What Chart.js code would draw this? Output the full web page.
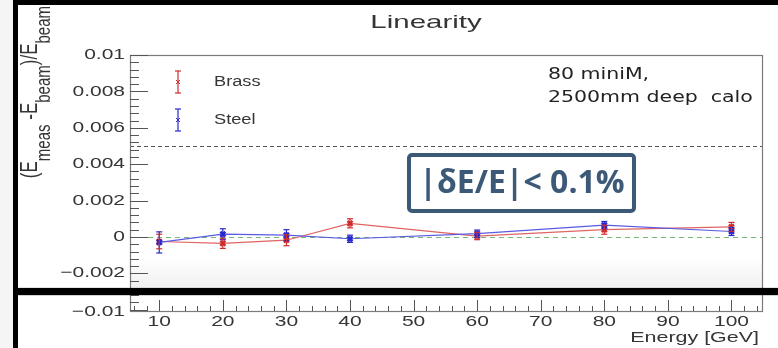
<!DOCTYPE html>
<html>
<head>
<meta charset="utf-8">
<script src="https://cdn.jsdelivr.net/npm/chart.js@4.4.0/dist/chart.umd.min.js"></script>
<style>
  html, body { margin: 0; padding: 0; background: #fff; }
  canvas { display: block; }
</style>
</head>
<body>
<canvas id="linearity_canvas" width="778" height="348"></canvas>
<script>
// beam energies and relative deviation (Emeas - Ebeam)/Ebeam
const energies = [10, 20, 30, 40, 60, 80, 100];
const brassDev = [-0.00025, -0.00035, -0.00018, 0.00075, 0.00005, 0.0004, 0.00055];
const brassErr = [0.0004, 0.00028, 0.0003, 0.00025, 0.0002, 0.00025, 0.00025];
const steelDev = [-0.0003, 0.00015, 0.0001, -0.0001, 0.00018, 0.00065, 0.0003];
const steelErr = [0.00058, 0.0003, 0.0003, 0.0002, 0.0002, 0.0002, 0.00022];

const xTicks = [10, 20, 30, 40, 50, 60, 70, 80, 90, 100];
const yTicks = [0.01, 0.008, 0.006, 0.004, 0.002, 0, -0.002];
const yTickLabels = ['0.01', '0.008', '0.006', '0.004', '0.002', '0', '\u22120.002'];
const yBottomLabel = '\u22120.01';   // the pad is cut, only the bottom of the axis is shown
const cutFrom = -0.0028;
const cutTo = -0.0032;
const limitLine = 0.005;

const titleText = 'Linearity';
const xTitle = 'Energy [GeV]';
const noteLines = ['80 miniM,', '2500mm deep  calo'];
const boxText = '|\u03b4E/E|< 0.1%';

const rootFont = '"Liberation Sans", Arial, sans-serif';
const textCol = '#353535';

function wideText(ctx, txt, x, y, align, sx) {
    ctx.save();
    ctx.translate(x, y);
    ctx.scale(sx, 1);
    ctx.textAlign = align;
    ctx.textBaseline = 'middle';
    ctx.fillText(txt, 0, 0);
    ctx.restore();
}

function seg(ctx, x1, y1, x2, y2) {
    ctx.beginPath();
    ctx.moveTo(x1, y1);
    ctx.lineTo(x2, y2);
    ctx.stroke();
}

function errMarker(ctx, x, yTop, yBot, col) {
    ctx.strokeStyle = col;
    ctx.lineWidth = 1.2;
    seg(ctx, x, yTop, x, yBot);
    seg(ctx, x - 3, yTop, x + 3, yTop);
    seg(ctx, x - 3, yBot, x + 3, yBot);
}

function drawYTitle(ctx, xBase, yEnd) {
    const parts = [['(E', false], ['meas', true], [' -E', false], ['beam', true], [')/E', false], ['beam', true]];
    const fMain = '17px ' + rootFont, fSub = '15px ' + rootFont;
    let total = 0;
    parts.forEach(p => { ctx.font = p[1] ? fSub : fMain; total += ctx.measureText(p[0]).width; });
    ctx.save();
    ctx.translate(xBase, yEnd + total);
    ctx.rotate(-Math.PI / 2);
    ctx.scale(1, 1.4);
    ctx.fillStyle = textCol;
    ctx.textAlign = 'left';
    ctx.textBaseline = 'alphabetic';
    let cx = 0;
    parts.forEach(p => {
        ctx.font = p[1] ? fSub : fMain;
        ctx.fillText(p[0], cx, p[1] ? 9 : 0);
        cx += ctx.measureText(p[0]).width;
    });
    ctx.restore();
}

const rootPad = {
    id: 'rootPad',
    beforeDraw(chart) {
        const ctx = chart.ctx, a = chart.chartArea, y = chart.scales.y;
        ctx.save();
        ctx.fillStyle = '#fff';
        ctx.fillRect(0, 0, chart.width, chart.height);
        ctx.fillStyle = '#f5f5f5';
        ctx.fillRect(0, 0, 14, chart.height);
        // faint shading just above the cut
        const cTop = y.getPixelForValue(cutFrom);
        const g = ctx.createLinearGradient(0, cTop - 30, 0, cTop);
        g.addColorStop(0, 'rgba(240,240,240,0)');
        g.addColorStop(1, 'rgba(240,240,240,1)');
        ctx.fillStyle = g;
        ctx.fillRect(a.left, cTop - 30, a.right - a.left, 30);
        // reference lines
        ctx.lineWidth = 1;
        ctx.setLineDash([4, 3]);
        ctx.strokeStyle = '#555';
        const yl = Math.round(y.getPixelForValue(limitLine)) + 0.5;
        seg(ctx, a.left, yl, a.right, yl);
        ctx.setLineDash([5, 4]);
        ctx.strokeStyle = '#76b876';
        const y0 = Math.round(y.getPixelForValue(0)) + 0.5;
        seg(ctx, a.left, y0, a.right, y0);
        ctx.restore();
    },
    afterDatasetsDraw(chart) {
        const ctx = chart.ctx, x = chart.scales.x, y = chart.scales.y;
        ctx.save();
        chart.data.datasets.forEach(ds => {
            ds.data.forEach((p, j) => {
                const px = x.getPixelForValue(p.x);
                errMarker(ctx, px, y.getPixelForValue(p.y + ds.errors[j]), y.getPixelForValue(p.y - ds.errors[j]), ds.pointBorderColor);
            });
        });
        ctx.restore();
    },
    afterDraw(chart) {
        const ctx = chart.ctx, a = chart.chartArea, x = chart.scales.x, y = chart.scales.y;
        ctx.save();
        // frame
        ctx.strokeStyle = '#7a7a7a';
        ctx.lineWidth = 1.2;
        ctx.strokeRect(a.left + 0.5, a.top + 0.5, a.right - a.left, a.bottom - a.top);
        // ticks, drawn inside the frame like ROOT does
        ctx.strokeStyle = '#555';
        ctx.lineWidth = 1;
        for (let k = Math.ceil(y.min / 0.0004); k * 0.0004 <= y.max + 1e-9; k++) {
            const v = k * 0.0004;
            const major = Math.abs(v / 0.002 - Math.round(v / 0.002)) < 1e-6;
            const py = Math.round(y.getPixelForValue(v)) + 0.5;
            seg(ctx, a.left, py, a.left + (major ? 18 : 9), py);
        }
        for (let v = 6; v <= x.max; v += 2) {
            const px = Math.round(x.getPixelForValue(v)) + 0.5;
            seg(ctx, px, a.bottom, px, a.bottom - (v % 10 === 0 ? 11 : 5));
        }
        // tick labels
        ctx.fillStyle = textCol;
        ctx.font = '15px ' + rootFont;
        yTicks.forEach((v, i) => wideText(ctx, yTickLabels[i], a.left - 5, y.getPixelForValue(v), 'right', 1.4));
        wideText(ctx, yBottomLabel, a.left - 5, a.bottom + 1, 'right', 1.4);
        xTicks.forEach(v => wideText(ctx, String(v), x.getPixelForValue(v), a.bottom + 11, 'center', 1.4));
        wideText(ctx, xTitle, a.right - 3, a.bottom + 27, 'right', 1.43);
        // titles
        ctx.font = '19px ' + rootFont;
        wideText(ctx, titleText, 426, 23, 'center', 1.55);
        drawYTitle(ctx, 37, 6);
        // legend
        const legY = [82, 120];
        chart.data.datasets.slice().reverse().forEach((ds, i) => {
            const ly = legY[i];
            errMarker(ctx, 178, ly - 11, ly + 11, ds.pointBorderColor);
            ctx.lineWidth = 1;
            seg(ctx, 176, ly - 2, 180, ly + 2);
            seg(ctx, 176, ly + 2, 180, ly - 2);
            ctx.fillStyle = textCol;
            ctx.font = '14px ' + rootFont;
            wideText(ctx, ds.label, 214, ly, 'left', 1.3);
        });
        // notes
        ctx.fillStyle = '#222';
        ctx.font = '16px "DejaVu Sans", sans-serif';
        wideText(ctx, noteLines[0], 548, 75, 'left', 1.28);
        wideText(ctx, noteLines[1], 548, 98, 'left', 1.28);
        // highlighted box
        ctx.fillStyle = '#fff';
        ctx.fillRect(409, 155, 225, 56);
        ctx.strokeStyle = '#3c5a77';
        ctx.lineWidth = 4;
        ctx.beginPath();
        ctx.roundRect(409, 155, 225, 56, 3);
        ctx.stroke();
        ctx.fillStyle = '#3c5a77';
        ctx.font = 'bold 32px "Open Sans", sans-serif';
        ctx.textAlign = 'center';
        ctx.textBaseline = 'middle';
        ctx.fillText(boxText, 522, 184);
        // black slide borders and the cut through the pad
        ctx.fillStyle = '#000';
        ctx.fillRect(13, 0, chart.width - 13, 5);
        ctx.fillRect(13, 0, 5, chart.height);
        const c1 = y.getPixelForValue(cutFrom), c2 = y.getPixelForValue(cutTo);
        ctx.fillRect(13, c1, chart.width - 13, c2 - c1);
        ctx.restore();
    }
};

const yMin = -0.00407;

new Chart(document.getElementById('linearity_canvas'), {
    type: 'line',
    data: {
        datasets: [{
            label: 'Steel',
            data: energies.map((e, i) => ({ x: e, y: steelDev[i] })),
            errors: steelErr,
            borderColor: 'rgb(90,90,225)',
            borderWidth: 1.2,
            pointStyle: 'crossRot',
            pointRadius: 3.5,
            pointBorderWidth: 2.5,
            pointBorderColor: 'rgb(40,40,205)',
            pointBackgroundColor: 'rgb(40,40,205)',
            tension: 0
        }, {
            label: 'Brass',
            data: energies.map((e, i) => ({ x: e, y: brassDev[i] })),
            errors: brassErr,
            borderColor: 'rgb(225,100,100)',
            borderWidth: 1.2,
            pointStyle: 'crossRot',
            pointRadius: 3.5,
            pointBorderWidth: 2.5,
            pointBorderColor: 'rgb(205,45,45)',
            pointBackgroundColor: 'rgb(205,45,45)',
            tension: 0
        }]
    },
    options: {
        responsive: false,
        animation: false,
        devicePixelRatio: 1,
        layout: { padding: { top: 55, right: 16, bottom: 37, left: 130 } },
        plugins: {
            legend: { display: false },
            tooltip: { enabled: false },
            title: { display: false }
        },
        scales: {
            x: { type: 'linear', display: false, min: 5.4, max: 104.8 },
            y: { type: 'linear', display: false, min: yMin, max: 0.01 }
        }
    },
    plugins: [rootPad]
});
</script>
</body>
</html>
